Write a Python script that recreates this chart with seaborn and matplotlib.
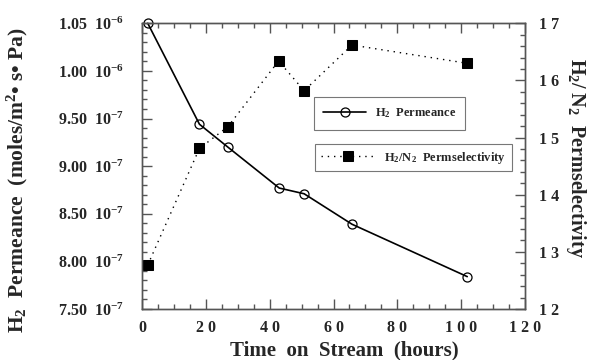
import matplotlib
matplotlib.use("Agg")
import matplotlib.pyplot as plt
import seaborn as sns
import pandas as pd
from matplotlib.ticker import MultipleLocator, FixedLocator, FixedFormatter

# ---- data ----
time_perm = [1.8, 18.0, 26.9, 43.0, 50.8, 65.8, 101.9]
permeance = [1.050e-6, 0.944e-6, 0.920e-6, 0.877e-6, 0.871e-6, 0.839e-6, 0.784e-6]
time_sel = [1.8, 18.0, 26.9, 42.8, 50.8, 65.8, 101.9]
selectivity = [12.77, 14.81, 15.19, 16.34, 15.82, 16.62, 16.30]

left_ticks = [0.75e-6, 0.80e-6, 0.85e-6, 0.90e-6, 0.95e-6, 1.00e-6, 1.05e-6]
left_tick_labels = [r"7.50  10$^{-7}$", r"8.00  10$^{-7}$", r"8.50  10$^{-7}$",
                    r"9.00  10$^{-7}$", r"9.50  10$^{-7}$", r"1.00  10$^{-6}$",
                    r"1.05  10$^{-6}$"]
x_ticks = [0, 20, 40, 60, 80, 100, 120]
x_tick_labels = ["0", "2 0", "4 0", "6 0", "8 0", "1 0 0", "1 2 0"]
right_ticks = [12, 13, 14, 15, 16, 17]
right_tick_labels = ["1 2", "1 3", "1 4", "1 5", "1 6", "1 7"]

sns.set_theme(style="ticks")
plt.rcParams["font.family"] = ["Liberation Serif", "DejaVu Serif"]
plt.rcParams["font.weight"] = "bold"
plt.rcParams["mathtext.fontset"] = "custom"
plt.rcParams["mathtext.rm"] = "Liberation Serif:bold"
plt.rcParams["mathtext.it"] = "Liberation Serif:bold"
plt.rcParams["mathtext.bf"] = "Liberation Serif:bold"
plt.rcParams["mathtext.default"] = "rm"

fig = plt.figure(figsize=(6.01, 3.60), dpi=100)
ax = fig.add_axes([142/601, 1-309/360, (525-142)/601, (309-23.3)/360])
ax2 = ax.twinx()

df1 = pd.DataFrame({"t": time_perm, "p": permeance})
df2 = pd.DataFrame({"t": time_sel, "s": selectivity})

sns.lineplot(data=df1, x="t", y="p", ax=ax, color="black", linewidth=1.2,
             marker="o", markersize=6.5, markerfacecolor="none",
             markeredgecolor="black", markeredgewidth=0.9, legend=False,
             clip_on=False)
sns.lineplot(data=df2, x="t", y="s", ax=ax2, color="black", linewidth=1.0,
             linestyle=(0, (1, 3.5)), marker="s", markersize=7,
             markerfacecolor="black", markeredgecolor="black", legend=False,
             clip_on=False)

ax.set_xlim(0, 120)
ax.set_ylim(0.75e-6, 1.05e-6)
ax2.set_ylim(12, 17)

spine_c = "#555555"
for a in (ax, ax2):
    for s in a.spines.values():
        s.set_visible(True)
        s.set_color(spine_c)
        s.set_linewidth(1.0)

ax.xaxis.set_major_locator(FixedLocator(x_ticks))
ax.xaxis.set_major_formatter(FixedFormatter(x_tick_labels))
ax.xaxis.set_minor_locator(MultipleLocator(5))
ax.yaxis.set_major_locator(FixedLocator(left_ticks))
ax.yaxis.set_major_formatter(FixedFormatter(left_tick_labels))
ax.yaxis.set_minor_locator(MultipleLocator(0.01e-6))
ax2.yaxis.set_major_locator(FixedLocator(right_ticks))
ax2.yaxis.set_major_formatter(FixedFormatter(right_tick_labels))
ax2.yaxis.set_minor_locator(MultipleLocator(0.2))

ax.tick_params(axis="x", which="both", direction="in", top=True, bottom=True,
               color=spine_c, labelsize=11.5, pad=8)
ax.tick_params(axis="y", which="both", direction="in", left=True, right=False,
               color=spine_c, labelsize=11.5, pad=13)
ax2.tick_params(axis="y", which="both", direction="in", right=True, left=False,
                color=spine_c, labelsize=11.5, pad=10)
for a in (ax, ax2):
    a.tick_params(which="major", length=7, width=1)
    a.tick_params(which="minor", length=3.5, width=1)
for lab in ax.get_xticklabels() + ax.get_yticklabels() + ax2.get_yticklabels():
    lab.set_fontweight("bold")

ax.set_xlabel("Time  on  Stream  (hours)", fontsize=15, fontweight="bold")
ax.xaxis.set_label_coords((344-142)/383, 1-(340-23.3)/285.7)
ax.set_ylabel(r"H$_2$  Permeance  (moles/m$^2$• s• Pa)", fontsize=15.5,
              fontweight="bold")
ax.yaxis.set_label_coords((30-142)/383, 1-(180-23.3)/285.7)
ax2.set_ylabel(r"H$_2$/ N$_2$  Permselectivity", fontsize=14.5, fontweight="bold",
               rotation=270, labelpad=0)
ax2.yaxis.set_label_coords(1.165, 0.53)

h1 = ax.lines[0]
h2 = ax2.lines[0]
leg1 = ax2.legend([h1], [r"H$_2$  Permeance"], loc="upper left",
                  bbox_to_anchor=((314-142)/383, 1-(97.3-23.3)/285.7),
                  frameon=True, fancybox=False, edgecolor="#555555",
                  handlelength=3.4, handletextpad=0.7, borderpad=0.75,
                  prop={"weight": "bold", "size": 9}, borderaxespad=0)
leg1.get_frame().set_linewidth(0.8)
ax2.add_artist(leg1)
leg2 = ax2.legend([h2], [r"H$_2$/N$_2$  Permselectivity"], loc="upper left",
                  bbox_to_anchor=((315-142)/383, 1-(144-23.3)/285.7),
                  frameon=True, fancybox=False, edgecolor="#555555",
                  handlelength=4.4, handletextpad=0.7, borderpad=0.45,
                  prop={"weight": "bold", "size": 9}, borderaxespad=0)
leg2.get_frame().set_linewidth(0.8)

fig.savefig("out.png", dpi=100)
